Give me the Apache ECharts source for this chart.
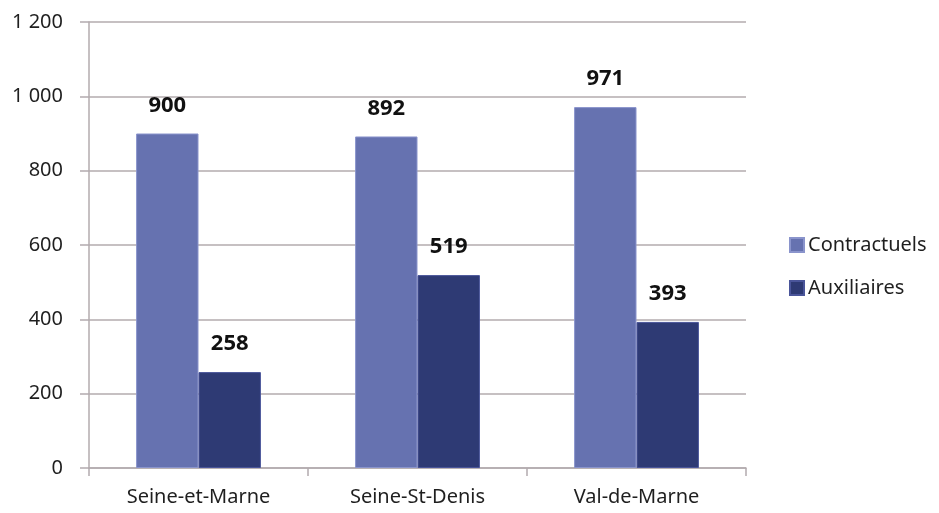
<!DOCTYPE html>
<html>
<head>
<meta charset="utf-8">
<script src="https://cdn.jsdelivr.net/npm/echarts@6/dist/echarts.min.js"></script>
<style>
  html, body { margin: 0; padding: 0; background: #ffffff; }
  #chart { width: 939px; height: 513px; }
</style>
</head>
<body>
<div id="chart"></div>
<script>
// Effectifs par département
const categories = ['Seine-et-Marne', 'Seine-St-Denis', 'Val-de-Marne'];
const contractuels = [900, 892, 971];
const auxiliaires = [258, 519, 393];
const yTicks = [0, 200, 400, 600, 800, 1000, 1200];

const FONT = '"Noto Sans", "Open Sans", sans-serif';
const GRID_COLOR = '#b3abae';
const TEXT_COLOR = '#1f1f1f';

function frNumber(v) {
  return String(v).replace(/\B(?=(\d{3})+(?!\d))/g, ' ');
}

const chart = echarts.init(document.getElementById('chart'), null, { renderer: 'canvas' });

const labelStyle = {
  show: true,
  position: 'top',
  distance: 17,
  color: '#111111',
  fontFamily: FONT,
  fontWeight: 'bold',
  fontSize: 22
};

chart.setOption({
  animation: false,
  backgroundColor: '#ffffff',
  grid: { left: 89, right: 193, top: 22, bottom: 45, containLabel: false },
  legend: {
    orient: 'vertical',
    left: 784,
    top: 230,
    itemWidth: 14,
    itemHeight: 14,
    itemGap: 23,
    icon: 'rect',
    textStyle: { fontFamily: FONT, fontSize: 20, color: TEXT_COLOR, padding: [0, 0, 0, -1] },
    data: ['Contractuels', 'Auxiliaires']
  },
  xAxis: {
    type: 'category',
    data: categories,
    axisLine: { show: true, lineStyle: { color: GRID_COLOR, width: 1.5 } },
    axisTick: { show: true, length: 8, alignWithLabel: false, lineStyle: { color: GRID_COLOR, width: 1.5 } },
    axisLabel: { fontFamily: FONT, fontSize: 20, color: TEXT_COLOR, margin: 19 }
  },
  yAxis: {
    type: 'value',
    min: yTicks[0],
    max: yTicks[yTicks.length - 1],
    interval: yTicks[1] - yTicks[0],
    axisLine: { show: true, lineStyle: { color: GRID_COLOR, width: 1.5 } },
    axisTick: { show: true, length: 9, lineStyle: { color: GRID_COLOR, width: 1.5 } },
    splitLine: { show: true, lineStyle: { color: GRID_COLOR, width: 1.5 } },
    axisLabel: {
      fontFamily: FONT, fontSize: 20, color: TEXT_COLOR, margin: 26,
      formatter: v => frNumber(v)
    }
  },
  series: [
    {
      name: 'Contractuels',
      type: 'bar',
      data: contractuels,
      barGap: '0%',
      barCategoryGap: '43%',
      itemStyle: { color: '#6672b0', borderColor: '#8a94cc', borderWidth: 1 },
      label: labelStyle
    },
    {
      name: 'Auxiliaires',
      type: 'bar',
      data: auxiliaires,
      itemStyle: { color: '#2e3a74', borderColor: '#4a559a', borderWidth: 1 },
      label: labelStyle
    }
  ]
});
</script>
</body>
</html>
